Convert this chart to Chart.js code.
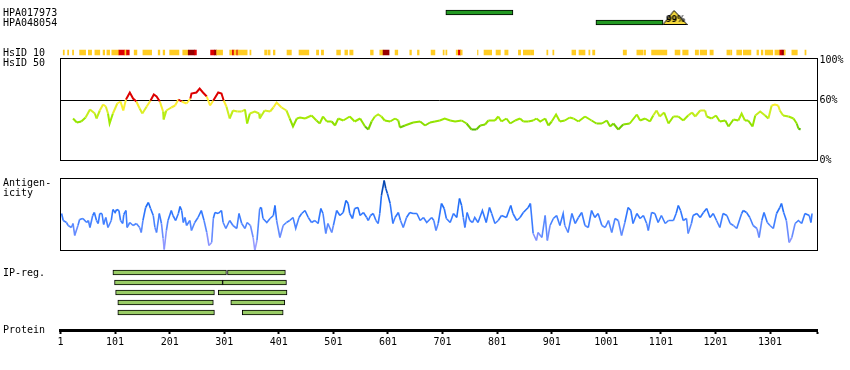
<!DOCTYPE html>
<html lang="en">

<head>
    <meta charset="UTF-8">
    <title>protein overview</title>
    <script src="https://cdn.jsdelivr.net/npm/chart.js@4.4.1/dist/chart.umd.min.js"></script>
    <style>
        body { margin: 0; background: #fff; }
        #wrap { position: relative; width: 850px; height: 370px; font: 10px/10px "DejaVu Sans Mono", monospace; color: #000; }
        #wrap canvas { position: absolute; left: 0; }
        .lbl { position: absolute; left: 3px; white-space: nowrap; }
    </style>
</head>

<body>
    <div id="wrap">
        <canvas id="topChart" width="850" height="60" style="top:0px"></canvas>
        <canvas id="identChart" width="850" height="120" style="top:50px"></canvas>
        <canvas id="antiChart" width="850" height="90" style="top:170px"></canvas>
        <canvas id="ipChart" width="850" height="115" style="top:255px"></canvas>
        <div class="lbl" style="top:8px">HPA017973</div>
        <div class="lbl" style="top:18px">HPA048054</div>
        <div class="lbl" style="top:48px">HsID 10</div>
        <div class="lbl" style="top:58px">HsID 50</div>
        <div class="lbl" style="top:178px">Antigen-</div>
        <div class="lbl" style="top:188px">icity</div>
        <div class="lbl" style="top:268px">IP-reg.</div>
        <div class="lbl" style="top:325px">Protein</div>
    </div>
    <script>
        // protein length / axis
        var seqLength = 1388;
        var axisTicks = [1, 101, 201, 301, 401, 501, 601, 701, 801, 901, 1001, 1101, 1201, 1301];

        // antibodies
        var hpaNames = ['HPA017973', 'HPA048054'];
        var hpaStart = [707, 982];
        var hpaEnd = [830, 1105];
        var hpaMarkPos = [null, 1127];
        var hpaMarkText = [null, '99%'];

        // HsID 10 strip, level 1 = yellow, 2 = red, 3 = dark red
        var hsidStart = [6, 14, 23, 36, 52, 64, 79, 86, 95, 108, 119, 122, 136, 152, 180, 189, 201, 225, 235, 247,
            276, 283, 287, 311, 316, 319, 324, 326, 348, 375, 381, 391, 416, 438, 470, 479, 507, 522, 531, 569,
            586, 592, 614, 641, 655, 680, 702, 707, 726, 730, 734, 765, 777, 799, 815, 840, 849, 862, 892, 903,
            938, 951, 969, 976, 1032, 1057, 1070, 1084, 1127, 1141, 1164, 1173, 1191, 1222, 1229, 1240, 1252, 1277, 1285, 1292,
            1310, 1319, 1323, 1327, 1341, 1365];
        var hsidEnd = [8, 16, 25, 47, 58, 73, 82, 91, 108, 119, 122, 127, 141, 168, 183, 192, 218, 235, 247, 250,
            283, 287, 298, 316, 319, 324, 326, 343, 350, 379, 385, 394, 424, 456, 474, 483, 514, 527, 537, 574,
            592, 603, 619, 644, 658, 687, 704, 709, 730, 734, 737, 766, 791, 807, 821, 844, 861, 868, 894, 905,
            945, 962, 971, 980, 1038, 1068, 1073, 1112, 1136, 1151, 1170, 1185, 1197, 1228, 1231, 1249, 1266, 1280, 1288, 1306,
            1319, 1323, 1327, 1329, 1351, 1367];
        var hsidLevel = [1, 1, 1, 1, 1, 1, 1, 1, 1, 2, 1, 2, 1, 1, 1, 1, 1, 1, 3, 2,
            2, 3, 1, 1, 2, 1, 2, 1, 1, 1, 1, 1, 1, 1, 1, 1, 1, 1, 1, 1,
            1, 3, 1, 1, 1, 1, 1, 1, 1, 2, 1, 1, 1, 1, 1, 1, 1, 1, 1, 1,
            1, 1, 1, 1, 1, 1, 1, 1, 1, 1, 1, 1, 1, 1, 1, 1, 1, 1, 1, 1,
            1, 2, 3, 1, 1, 1];

        // HsID 50 identity (%)
        var identTicks = [0, 60, 100];
        var identPos = [24, 31, 39, 47, 55, 64, 67, 73, 79, 84,
            88, 91, 97, 105, 111, 116, 121, 128, 134, 140,
            146, 151, 159, 166, 172, 177, 183, 189, 190, 195,
            204, 211, 217, 223, 232, 239, 241, 250, 256, 262,
            269, 275, 281, 290, 296, 300, 305, 311, 317, 325,
            333, 339, 343, 348, 357, 365, 366, 375, 385, 391,
            397, 406, 415, 421, 427, 434, 440, 449, 461, 470,
            476, 482, 489, 498, 504, 510, 519, 531, 540, 550,
            559, 565, 571, 577, 583, 589, 595, 605, 614, 620,
            623, 632, 647, 660, 669, 678, 687, 696, 705, 715,
            724, 736, 745, 754, 763, 770, 779, 785, 797, 803,
            809, 818, 825, 834, 843, 849, 858, 867, 873, 880,
            889, 895, 901, 909, 916, 925, 934, 941, 950, 962,
            974, 983, 993, 1002, 1008, 1014, 1023, 1032, 1044, 1057,
            1063, 1072, 1081, 1087, 1093, 1099, 1107, 1115, 1124, 1133,
            1142, 1151, 1158, 1164, 1173, 1182, 1185, 1194, 1202, 1209,
            1219, 1225, 1234, 1243, 1249, 1255, 1261, 1269, 1274, 1283,
            1292, 1298, 1304, 1310, 1316, 1319, 1325, 1335, 1344, 1350,
            1353, 1357];
        var identVal = [42, 38, 39, 43, 51, 47, 42, 50, 56, 54,
            47, 37, 47, 57, 59, 50, 61, 68, 62, 59,
            52, 47, 54, 60, 66, 64, 59, 49, 41, 50,
            53, 55, 61, 59, 57, 62, 67, 68, 72, 68,
            64, 55, 60, 68, 67, 60, 54, 42, 50, 49,
            49, 51, 37, 47, 49, 47, 42, 50, 49, 53,
            58, 53, 50, 42, 34, 42, 43, 42, 45, 40,
            37, 44, 39, 39, 35, 42, 40, 44, 39, 42,
            34, 31, 39, 44, 46, 44, 40, 39, 42, 40,
            33, 35, 38, 39, 35, 38, 39, 40, 42, 40,
            39, 40, 37, 31, 31, 35, 36, 40, 40, 44,
            39, 42, 37, 40, 42, 39, 39, 40, 42, 39,
            42, 35, 39, 46, 39, 40, 43, 42, 39, 44,
            40, 37, 37, 40, 34, 37, 31, 36, 37, 46,
            40, 42, 39, 45, 50, 44, 48, 37, 44, 44,
            40, 45, 48, 44, 50, 50, 44, 42, 45, 39,
            40, 34, 41, 40, 47, 40, 40, 34, 45, 49,
            45, 42, 55, 56, 55, 50, 45, 44, 42, 37,
            32, 31];

        // antigenicity
        var antiPos = [3, 6, 12, 15, 21, 24, 27, 33, 36, 42,
            49, 52, 55, 60, 63, 67, 70, 73, 77, 80,
            84, 88, 94, 97, 101, 104, 108, 111, 115, 117,
            121, 123, 128, 134, 140, 146, 149, 152, 157, 162,
            166, 171, 174, 177, 182, 186, 189, 191, 195, 198,
            204, 207, 212, 217, 220, 223, 226, 229, 232, 238,
            241, 247, 253, 259, 264, 269, 273, 278, 281, 284,
            290, 296, 299, 304, 311, 317, 324, 328, 333, 339,
            343, 349, 354, 357, 361, 366, 369, 372, 379, 385,
            391, 394, 397, 403, 409, 415, 421, 427, 432, 438,
            443, 449, 455, 461, 467, 473, 478, 482, 487, 491,
            498, 501, 507, 513, 519, 524, 528, 531, 536, 540,
            546, 550, 556, 562, 565, 569, 574, 579, 583, 586,
            589, 594, 597, 600, 605, 610, 614, 620, 624, 629,
            635, 641, 647, 654, 660, 666, 672, 681, 685, 689,
            693, 699, 704, 708, 715, 721, 727, 732, 736, 739,
            742, 746, 751, 756, 760, 766, 774, 781, 787, 791,
            797, 803, 809, 818, 826, 830, 837, 843, 849, 858,
            862, 867, 873, 876, 883, 889, 893, 898, 904, 910,
            916, 922, 925, 931, 938, 944, 950, 956, 962, 968,
            974, 980, 986, 993, 999, 1005, 1011, 1017, 1023, 1029,
            1035, 1041, 1046, 1050, 1057, 1063, 1069, 1075, 1078, 1084,
            1090, 1096, 1102, 1109, 1115, 1124, 1129, 1133, 1137, 1142,
            1148, 1151, 1157, 1160, 1167, 1173, 1179, 1185, 1191, 1197,
            1203, 1209, 1215, 1222, 1228, 1234, 1240, 1249, 1252, 1258,
            1264, 1270, 1277, 1281, 1286, 1290, 1296, 1301, 1307, 1313,
            1319, 1322, 1326, 1331, 1336, 1341, 1347, 1353, 1359, 1365,
            1373, 1376, 1378];
        var antiVal = [37, 30, 28, 25, 23, 27, 15, 25, 31, 32,
            28, 30, 23, 35, 38, 30, 27, 37, 37, 26,
            33, 23, 30, 41, 38, 41, 40, 30, 27, 36,
            40, 23, 28, 25, 27, 23, 18, 30, 43, 48,
            42, 35, 23, 18, 37, 27, 12, 1, 20, 30,
            40, 35, 30, 37, 44, 40, 28, 33, 25, 30,
            20, 28, 33, 40, 30, 18, 5, 8, 32, 38,
            37, 40, 28, 22, 30, 25, 22, 37, 27, 22,
            28, 25, 13, 0, 10, 42, 43, 32, 28, 32,
            35, 45, 30, 13, 25, 28, 30, 33, 22, 33,
            37, 40, 33, 28, 30, 27, 42, 37, 17, 27,
            18, 25, 40, 35, 38, 50, 47, 37, 32, 42,
            43, 35, 38, 33, 30, 35, 37, 30, 27, 37,
            55, 70, 62, 57, 47, 27, 33, 38, 30, 23,
            33, 38, 37, 37, 30, 33, 28, 33, 30, 20,
            27, 47, 42, 32, 28, 37, 33, 52, 45, 33,
            23, 38, 30, 28, 33, 28, 40, 28, 43, 37,
            27, 30, 35, 33, 45, 37, 30, 33, 38, 43,
            47, 17, 10, 18, 13, 35, 10, 25, 32, 35,
            25, 37, 25, 18, 37, 27, 33, 38, 25, 23,
            40, 33, 37, 25, 23, 30, 18, 32, 30, 15,
            28, 43, 40, 27, 37, 32, 35, 27, 20, 38,
            37, 28, 35, 27, 30, 30, 37, 45, 40, 30,
            32, 17, 27, 35, 37, 33, 38, 42, 33, 37,
            30, 23, 37, 35, 27, 25, 22, 37, 40, 38,
            33, 25, 22, 13, 30, 38, 28, 25, 22, 37,
            43, 47, 38, 30, 8, 13, 27, 30, 27, 37,
            35, 28, 37];

        // IP regions
        var ipRow = [1, 1, 2, 2, 3, 3, 4, 4, 5, 5];
        var ipStart = [97, 307, 100, 298, 102, 290, 106, 313, 106, 334];
        var ipEnd = [305, 413, 298, 415, 283, 416, 281, 412, 283, 409];

        Chart.defaults.font.family = 'DejaVu Sans Mono';
        Chart.defaults.font.size = 10;
        Chart.defaults.color = '#000';

        var hsidColors = { 1: '#ffcc22', 2: '#dd0000', 3: '#990000' };

        function hexToRgb(h) {
            return [parseInt(h.substr(1, 2), 16), parseInt(h.substr(3, 2), 16), parseInt(h.substr(5, 2), 16)];
        }

        function ramp(stops, v) {
            if (v <= stops[0][0]) return stops[0][1];
            for (var i = 1; i < stops.length; i++) {
                if (v <= stops[i][0]) {
                    var t = (v - stops[i - 1][0]) / (stops[i][0] - stops[i - 1][0]);
                    var a = hexToRgb(stops[i - 1][1]), b = hexToRgb(stops[i][1]);
                    return 'rgb(' + a.map(function (c, k) { return Math.round(c + (b[k] - c) * t); }).join(',') + ')';
                }
            }
            return stops[stops.length - 1][1];
        }

        function identColor(v) {
            if (v >= 60) return '#dd0000';
            return ramp([[31, '#55bb00'], [36, '#88dd00'], [42, '#9eea00'], [48, '#ccee22'], [54, '#f4ee2a'], [58, '#ffee33']], v);
        }

        function antiColor(v) {
            return ramp([[2, '#a0a0ff'], [14, '#8090ff'], [24, '#5588ff'], [34, '#3479ff'], [48, '#1a6af5'], [60, '#0c52c8'], [70, '#003c99']], v);
        }

        function makeMarker(text) {
            var c = document.createElement('canvas');
            c.width = 25;
            c.height = 15;
            var g = c.getContext('2d');
            g.beginPath();
            g.moveTo(0.5, 14.5);
            g.lineTo(11.5, 0.5);
            g.lineTo(24.5, 14.5);
            g.closePath();
            g.fillStyle = '#f4d83c';
            g.fill();
            g.strokeStyle = '#000';
            g.lineWidth = 1;
            g.stroke();
            g.fillStyle = '#000';
            g.font = 'bold 8px "DejaVu Sans"';
            g.textAlign = 'center';
            g.textBaseline = 'middle';
            g.fillText(text, 13, 10);
            return c;
        }

        var boxPlugin = {
            id: 'box',
            afterDraw: function (chart) {
                var a = chart.chartArea, ctx = chart.ctx;
                ctx.save();
                ctx.strokeStyle = '#000';
                ctx.lineWidth = 1;
                ctx.strokeRect(a.left, a.top, a.right - a.left, a.bottom - a.top);
                ctx.restore();
            }
        };

        var common = {
            responsive: false,
            animation: false,
            devicePixelRatio: 1,
            events: [],
            plugins: { legend: { display: false }, tooltip: { enabled: false } }
        };

        // antibodies + HsID 10
        var markPoints = [];
        var markStyles = [];
        hpaMarkPos.forEach(function (p, i) {
            if (p !== null) {
                markPoints.push({ x: p, y: i + 0.5 });
                markStyles.push(makeMarker(hpaMarkText[i]));
            }
        });

        new Chart(document.getElementById('topChart'), {
            type: 'bar',
            data: {
                datasets: [{
                    data: hsidStart.map(function (s, i) { return { x: [s, hsidEnd[i]], y: 5 }; }),
                    backgroundColor: hsidLevel.map(function (l) { return hsidColors[l]; }),
                    borderWidth: 0,
                    barThickness: 5,
                    grouped: false
                }, {
                    data: hpaNames.map(function (n, i) { return { x: [hpaStart[i], hpaEnd[i]], y: i + 1 }; }),
                    backgroundColor: '#229922',
                    borderColor: '#000',
                    borderWidth: 1,
                    borderSkipped: false,
                    barThickness: 5,
                    grouped: false
                }, {
                    type: 'scatter',
                    indexAxis: 'x',
                    data: markPoints,
                    pointStyle: markStyles,
                    pointRadius: 10
                }]
            },
            options: Object.assign({}, common, {
                indexAxis: 'y',
                layout: { autoPadding: false, padding: { left: 60.5, right: 32.5, top: 2.5, bottom: 2.5 } },
                scales: {
                    x: { type: 'linear', min: 1, max: seqLength, display: false },
                    y: { type: 'linear', min: 0, max: 5.5, reverse: true, offset: false, display: false }
                }
            })
        });

        // HsID 50 identity
        new Chart(document.getElementById('identChart'), {
            type: 'line',
            data: {
                datasets: [{
                    data: identPos.map(function (p, i) { return { x: p, y: identVal[i] }; }),
                    borderColor: '#9eea00',
                    borderWidth: 2,
                    pointRadius: 0,
                    segment: {
                        borderColor: function (s) { return identColor((s.p0.parsed.y + s.p1.parsed.y) / 2); }
                    }
                }]
            },
            options: Object.assign({}, common, {
                layout: { autoPadding: false, padding: { left: 60.5, right: 0, top: 8.5, bottom: 9.5 } },
                scales: {
                    x: { type: 'linear', min: 1, max: seqLength, display: false },
                    y: {
                        position: 'right',
                        min: 0,
                        max: 102,
                        border: { display: false },
                        afterBuildTicks: function (s) { s.ticks = identTicks.map(function (v) { return { value: v }; }); },
                        afterFit: function (s) { s.width = 32.5; },
                        grid: {
                            drawTicks: false,
                            color: function (c) { return c.tick && c.tick.value === 60 ? '#000' : 'rgba(0,0,0,0)'; }
                        },
                        ticks: { padding: 2, callback: function (v) { return v + '%'; } }
                    }
                }
            }),
            plugins: [boxPlugin]
        });

        // antigenicity
        new Chart(document.getElementById('antiChart'), {
            type: 'line',
            data: {
                datasets: [{
                    data: antiPos.map(function (p, i) { return { x: p, y: antiVal[i] }; }),
                    borderColor: '#3479ff',
                    borderWidth: 1.6,
                    pointRadius: 0,
                    segment: {
                        borderColor: function (s) { return antiColor((s.p0.parsed.y + s.p1.parsed.y) / 2); }
                    }
                }]
            },
            options: Object.assign({}, common, {
                layout: { autoPadding: false, padding: { left: 60.5, right: 32.5, top: 8.5, bottom: 9.5 } },
                scales: {
                    x: { type: 'linear', min: 1, max: seqLength, display: false },
                    y: { min: 0, max: 72, display: false }
                }
            }),
            plugins: [boxPlugin]
        });

        // IP regions + protein axis
        new Chart(document.getElementById('ipChart'), {
            type: 'bar',
            data: {
                datasets: [{
                    data: ipStart.map(function (s, i) { return { x: [s, ipEnd[i]], y: ipRow[i] }; }),
                    backgroundColor: '#99cc66',
                    borderColor: '#000',
                    borderWidth: 1,
                    borderSkipped: false,
                    barThickness: 5,
                    grouped: false
                }]
            },
            options: Object.assign({}, common, {
                indexAxis: 'y',
                layout: { autoPadding: false, padding: { left: 60.5, right: 32.5, top: 7.5, bottom: 20 } },
                scales: {
                    x: {
                        type: 'linear',
                        min: 1,
                        max: seqLength,
                        afterBuildTicks: function (s) { s.ticks = axisTicks.concat([seqLength]).map(function (v) { return { value: v }; }); },
                        afterFit: function (s) { s.height = 20; },
                        border: { display: true, width: 3, color: '#000' },
                        grid: { drawOnChartArea: false, drawTicks: true, tickLength: 4, tickWidth: 2, tickColor: '#000' },
                        ticks: {
                            autoSkip: false,
                            maxRotation: 0,
                            padding: 2,
                            callback: function (v) { return axisTicks.indexOf(v) >= 0 ? String(v) : ''; }
                        }
                    },
                    y: { type: 'linear', min: 0, max: 6.75, reverse: true, offset: false, display: false }
                }
            })
        });
    </script>
</body>

</html>
